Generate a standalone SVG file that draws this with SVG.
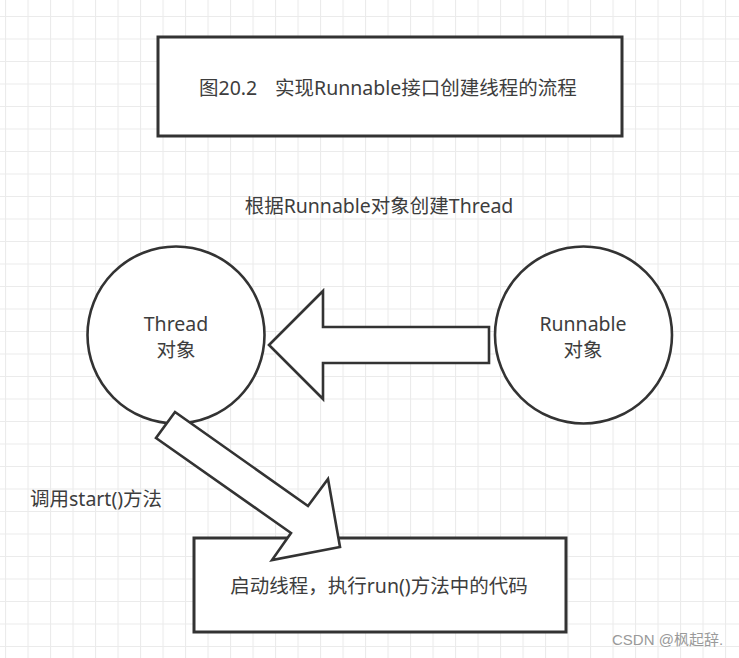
<svg xmlns="http://www.w3.org/2000/svg" width="739" height="658" viewBox="0 0 739 658">
  <defs>
    <pattern id="grid" x="5" y="16" width="22.5" height="22.5" patternUnits="userSpaceOnUse">
      <path d="M0.5 0 V22.5 M0 0.5 H22.5" fill="none" stroke="#ebebeb" stroke-width="1.2"/>
    </pattern>
    <style>
      .box { fill: #ffffff; stroke: #333333; stroke-width: 3; }
      .shape { fill: #ffffff; stroke: #333333; stroke-width: 2.6; stroke-linejoin: miter; }
      .t { font-family: "Noto Sans", "Noto Sans CJK SC", sans-serif; font-size: 19.5px; fill: #3d3d3d; }
      .c { text-anchor: middle; }
      .wm { font-family: "Liberation Sans", "Noto Sans CJK SC", sans-serif; font-size: 15px; fill: #9a9a9a; }
    </style>
  </defs>
  <rect x="0" y="0" width="739" height="658" fill="#ffffff"/>
  <rect x="0" y="0" width="739" height="658" fill="url(#grid)"/>

  <g id="title">
    <rect class="box" x="158" y="37" width="464" height="99"/>
    <text class="t" y="95"><tspan x="199">图20.2</tspan><tspan x="275">实现Runnable接口创建线程的流程</tspan></text>
  </g>

  <g id="thread">
    <circle class="shape" cx="176" cy="335" r="88.5"/>
    <text class="t c" x="176" y="331">Thread</text>
    <text class="t c" x="176" y="357">对象</text>
  </g>

  <g id="runnable">
    <circle class="shape" cx="583.5" cy="335" r="88.5"/>
    <text class="t c" x="583" y="331">Runnable</text>
    <text class="t c" x="583" y="357">对象</text>
  </g>

  <g id="run">
    <rect class="box" x="194" y="538" width="372" height="94"/>
    <text class="t c" x="379" y="593">启动线程，执行run()方法中的代码</text>
  </g>

  <g id="connectors">
    <g id="create-arrow">
      <polygon class="shape" points="269,345 323,291 323,327 489,327 489,363 323,363 323,399"/>
      <text class="t c" x="379" y="213">根据Runnable对象创建Thread</text>
    </g>
    <g id="start-arrow">
      <polygon class="shape" points="175,412 308,506 328,479 340,547 272,560 291,533 156,438"/>
      <text class="t" x="30" y="506">调用start()方法</text>
    </g>
  </g>

  <text class="wm" x="612" y="645">CSDN @枫起辞.</text>
</svg>
